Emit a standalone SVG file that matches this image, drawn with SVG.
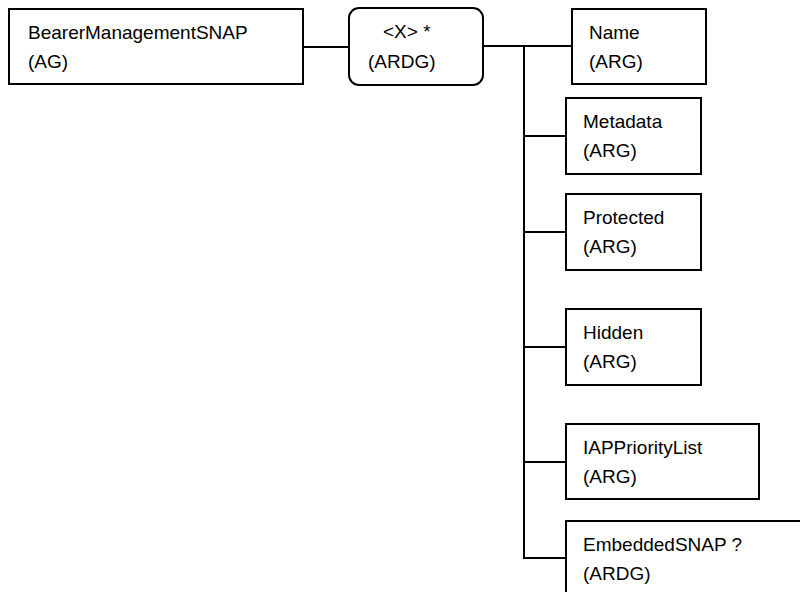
<svg xmlns="http://www.w3.org/2000/svg" width="800" height="592" viewBox="0 0 800 592">
<style>
.box{fill:#fff;stroke:#000;stroke-width:2}
.t{font-family:"Liberation Sans",Arial,sans-serif;font-size:19px;fill:#000}
.c{fill:none;stroke:#000;stroke-width:2}
</style>
<rect width="800" height="592" fill="#fff"/>
<g id="connectors">
<line class="c" x1="303" y1="47" x2="349" y2="47"/>
<line class="c" x1="483" y1="46" x2="572" y2="46" stroke-width="2.5"/>
<line class="c" x1="524" y1="45" x2="524" y2="462" stroke-width="2.5"/>
<line class="c" x1="524" y1="462" x2="524" y2="559" stroke-width="1.5"/>
<line class="c" x1="524" y1="136" x2="566" y2="136"/>
<line class="c" x1="524" y1="232" x2="566" y2="232"/>
<line class="c" x1="524" y1="347" x2="566" y2="347"/>
<line class="c" x1="524" y1="462" x2="566" y2="462"/>
<line class="c" x1="524" y1="558" x2="566" y2="558"/>
</g>
<g id="n-bearer">
<rect class="box" x="9" y="9" width="294" height="75"/>
<text class="t" x="28" y="39">BearerManagementSNAP</text>
<text class="t" x="28" y="68">(AG)</text>
</g>
<g id="n-x">
<rect class="box" x="349" y="8" width="134" height="77" rx="10"/>
<text class="t" x="383" y="38">&lt;X&gt; *</text>
<text class="t" x="368" y="68">(ARDG)</text>
</g>
<g id="n-name">
<rect class="box" x="572" y="9" width="134" height="75"/>
<text class="t" x="589" y="39">Name</text>
<text class="t" x="589" y="68">(ARG)</text>
</g>
<g id="n-metadata">
<rect class="box" x="566" y="98" width="135" height="76"/>
<text class="t" x="583" y="128">Metadata</text>
<text class="t" x="583" y="157">(ARG)</text>
</g>
<g id="n-protected">
<rect class="box" x="566" y="194" width="135" height="76"/>
<text class="t" x="583" y="224">Protected</text>
<text class="t" x="583" y="253">(ARG)</text>
</g>
<g id="n-hidden">
<rect class="box" x="566" y="309" width="135" height="76"/>
<text class="t" x="583" y="339">Hidden</text>
<text class="t" x="583" y="368">(ARG)</text>
</g>
<g id="n-iap">
<rect class="box" x="566" y="424" width="193" height="75"/>
<text class="t" x="583" y="454">IAPPriorityList</text>
<text class="t" x="583" y="483">(ARG)</text>
</g>
<g id="n-embedded">
<rect class="box" x="566" y="521" width="260" height="90"/>
<text class="t" x="583" y="551">EmbeddedSNAP ?</text>
<text class="t" x="583" y="580">(ARDG)</text>
</g>
</svg>
